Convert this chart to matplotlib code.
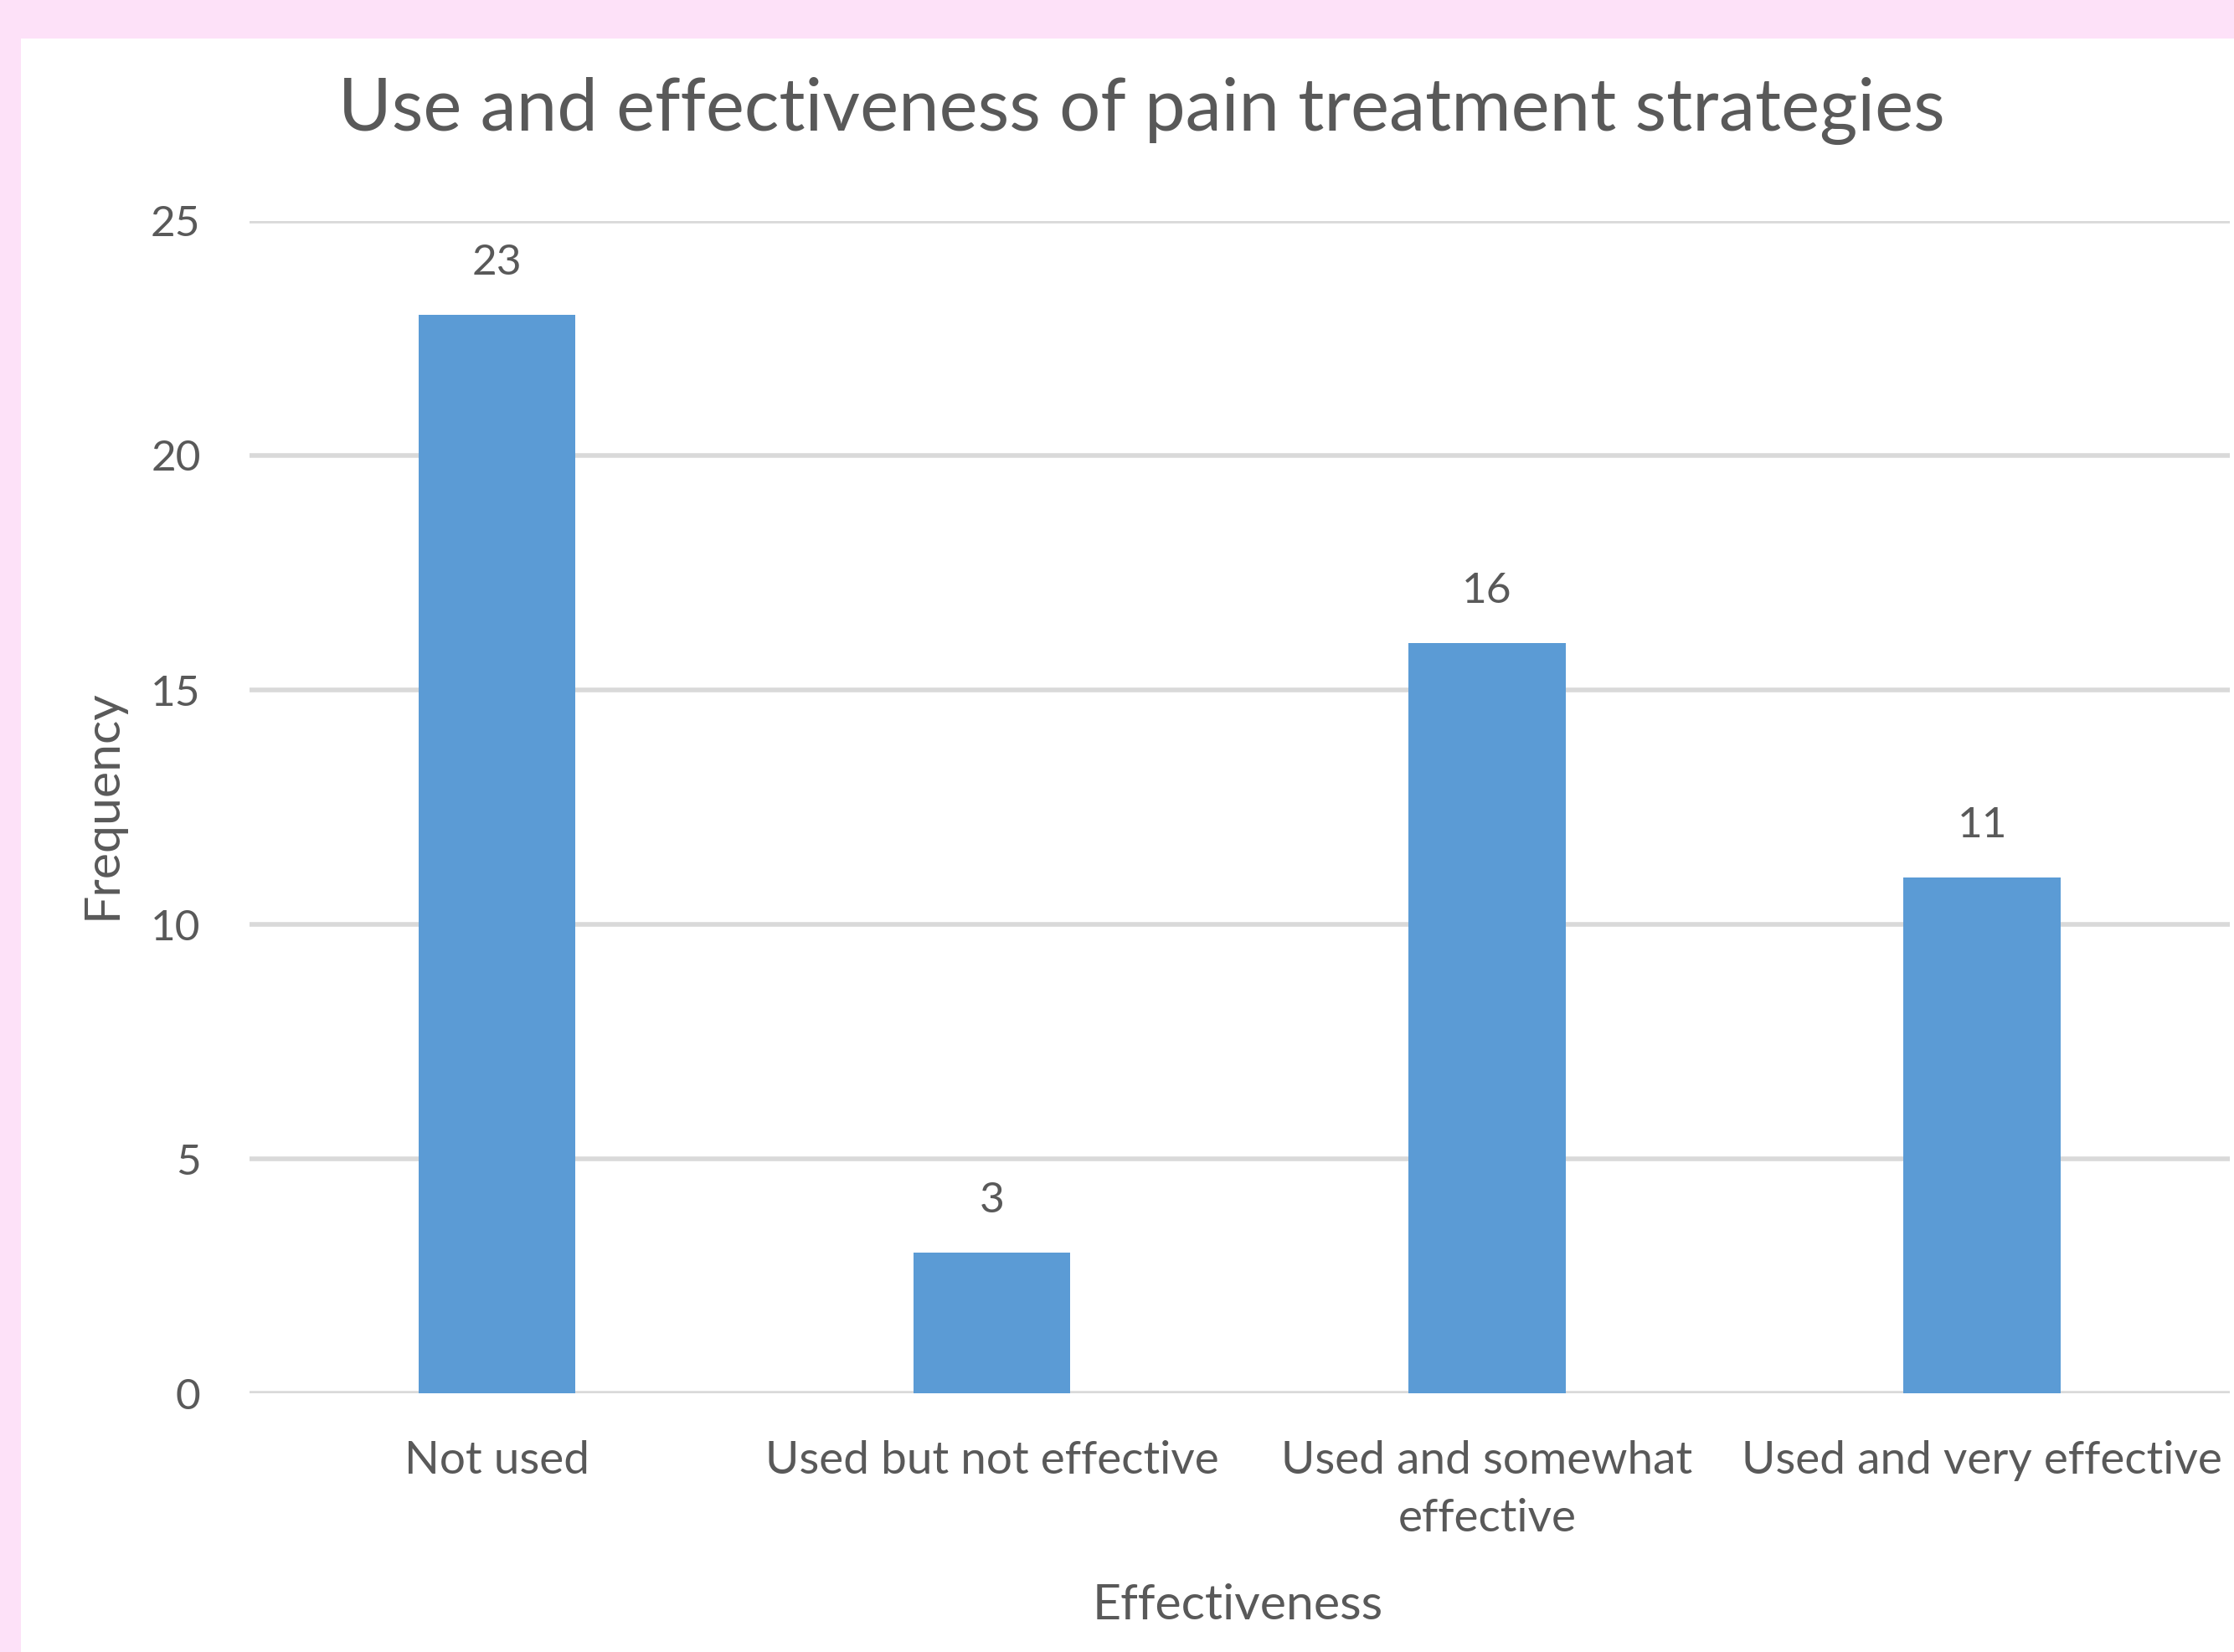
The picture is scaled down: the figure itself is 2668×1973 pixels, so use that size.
import numpy as np
import matplotlib.pyplot as plt
from matplotlib.patches import Rectangle

# datos del grafico
categories = ["Not used", "Used but not effective", "Used and somewhat\neffective", "Used and very effective"]
frequency = [23, 3, 16, 11]
y_ticks = [0, 5, 10, 15, 20, 25]

bar_color = "#5B9BD5"
text_color = "#595959"
grid_color = "#D9D9D9"
pink = "#FDE1F8"

plt.rcParams['font.family'] = ['Lato', 'DejaVu Sans']

fig = plt.figure(figsize=(13.34, 9.865), dpi=200, facecolor=pink)
# panel blanco del grafico
fig.patches.append(Rectangle((25/2668, 0), 1, 1 - 46/1973, transform=fig.transFigure,
                             facecolor="white", edgecolor="none", zorder=-10))

ax = fig.add_axes([0.1117, 0.1566, 0.998 - 0.1117, 0.8662 - 0.1566])
ax.set_facecolor("none")

x = np.arange(len(categories))
bars = ax.bar(x, frequency, width=0.317, color=bar_color, zorder=3)
ax.bar_label(bars, padding=14, fontsize=18.5, color=text_color)

ax.set_xlim(-0.5, len(categories) - 0.5)
ax.set_ylim(0, 25)
ax.set_yticks(y_ticks)
ax.set_xticks(x)
ax.set_xticklabels(categories, linespacing=1.5)
ax.tick_params(axis='y', length=0, pad=21, labelsize=18.5, labelcolor=text_color)
ax.tick_params(axis='x', length=0, pad=20, labelsize=19.8, labelcolor=text_color)
ax.grid(axis='y', color=grid_color, linewidth=2.0, zorder=0)
for s in ax.spines.values():
    s.set_visible(False)

fig.text(0.511, 0.933, "Use and effectiveness of pain treatment strategies",
         ha='center', va='center', fontsize=31.3, color=text_color)
fig.text(0.0459, 0.513, "Frequency", rotation=90, ha='center', va='center',
         fontsize=21.3, color=text_color)
fig.text(0.554, 0.028, "Effectiveness", ha='center', va='center',
         fontsize=21.3, color=text_color)

fig.savefig("out.png", dpi=200, facecolor=pink)
